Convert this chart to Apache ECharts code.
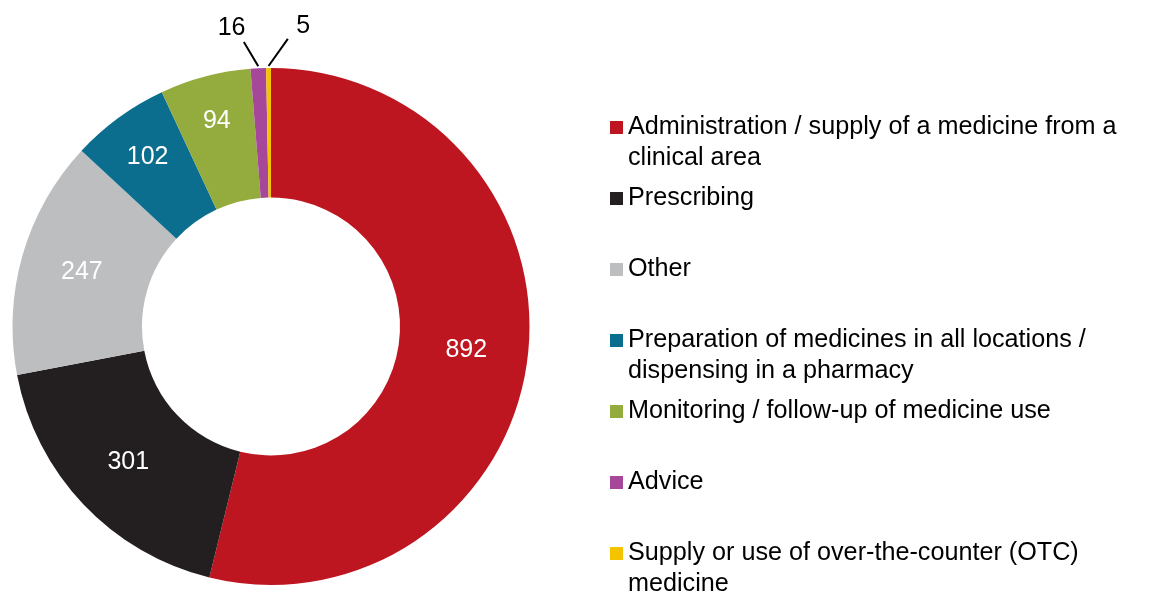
<!DOCTYPE html>
<html>
<head>
<meta charset="utf-8">
<script src="https://cdn.jsdelivr.net/npm/echarts@6/dist/echarts.min.js"></script>
<style>
  html, body { margin: 0; padding: 0; background: #fff; }
  #chart { width: 1151px; height: 594px; }
</style>
</head>
<body>
<div id="chart"></div>
<script>
// Incident categories and their counts
const categories = [
  'Administration / supply of a medicine from a clinical area',
  'Prescribing',
  'Other',
  'Preparation of medicines in all locations / dispensing in a pharmacy',
  'Monitoring / follow-up of medicine use',
  'Advice',
  'Supply or use of over-the-counter (OTC) medicine'
];
const counts = [892, 301, 247, 102, 94, 16, 5];

// Legend text, wrapped as it is printed
const legendLines = [
  ['Administration / supply of a medicine from a', 'clinical area'],
  ['Prescribing'],
  ['Other'],
  ['Preparation of medicines in all locations /', 'dispensing in a pharmacy'],
  ['Monitoring / follow-up of medicine use'],
  ['Advice'],
  ['Supply or use of over-the-counter (OTC)', 'medicine']
];

const colors = ['#BE1620', '#231F20', '#BCBEC0', '#0B6E8F', '#94AC3E', '#A6479A', '#F5C400'];

const FONT = '"Liberation Sans", Arial, Helvetica, sans-serif';
const CX = 271, CY = 326.5;
const R0 = 129, R1 = 258.5;
const LH = 30.5;              // legend line height
const LEG_FIRST = 127.5;      // centre of the first legend marker
const LEG_STEP = 71;          // spacing between legend markers

const total = counts.reduce((a, b) => a + b, 0);

// Leader-line geometry for the thin slices (offsets from the slice's outer edge)
const leaders = {
  5: { line: [-14.4, -26.3], text: [-12.3, -14] },
  6: { line: [19.3, -29.2], text: [15.3, -12.5] }
};
// Radial push for labels of the narrow upper slices
const labelPush = { 3: 1.065, 4: 1.08 };

const seriesData = counts.map((v, i) => {
  const item = { name: categories[i], value: v, itemStyle: { color: colors[i] } };
  if (v / total < 0.02) {
    item.label = { position: 'outside', color: '#000' };
    item.labelLine = { show: true, lineStyle: { color: '#000', width: 2 } };
  }
  return item;
});

const legends = categories.map((name, i) => {
  const lines = legendLines[i];
  // empty first line keeps the marker level with the first printed line
  const text = ['', ...lines, ...(lines.length < 2 ? [''] : [])].join('\n');
  return {
    data: [name],
    orient: 'vertical',
    left: 610,
    top: LEG_FIRST + i * LEG_STEP - 1.5 * LH,
    padding: 0,
    icon: 'rect',
    itemWidth: 13,
    itemHeight: 13,
    selectedMode: false,
    formatter: () => text,
    textStyle: { fontFamily: FONT, fontSize: 25.2, color: '#000', lineHeight: LH }
  };
});

const chart = echarts.init(document.getElementById('chart'), null, { renderer: 'canvas' });
chart.setOption({
  animation: false,
  backgroundColor: '#fff',
  legend: legends,
  series: [{
    type: 'pie',
    center: [CX, CY],
    radius: [R0, R1],
    startAngle: 90,
    clockwise: true,
    avoidLabelOverlap: false,
    silent: true,
    itemStyle: { borderWidth: 0 },
    label: {
      show: true,
      position: 'inside',
      formatter: '{c}',
      color: '#fff',
      fontFamily: FONT,
      fontSize: 25,
      padding: [3, 0, 0, 0]
    },
    labelLine: { show: false },
    labelLayout: function (p) {
      const lead = leaders[p.dataIndex];
      if (lead && p.labelLinePoints) {
        const s = p.labelLinePoints[0];
        const start = [s[0], s[1] - 2];
        const end = [s[0] + lead.line[0], s[1] + lead.line[1]];
        return {
          x: end[0] + lead.text[0],
          y: end[1] + lead.text[1],
          align: 'center',
          verticalAlign: 'middle',
          labelLinePoints: [start, end, end]
        };
      }
      const k = labelPush[p.dataIndex];
      if (k) {
        const r = p.labelRect;
        const lx = r.x + r.width / 2, ly = r.y + r.height / 2;
        return {
          x: CX + (lx - CX) * k,
          y: CY + (ly - CY) * k,
          align: 'center',
          verticalAlign: 'middle'
        };
      }
      return {};
    },
    data: seriesData
  }]
});
</script>
</body>
</html>
